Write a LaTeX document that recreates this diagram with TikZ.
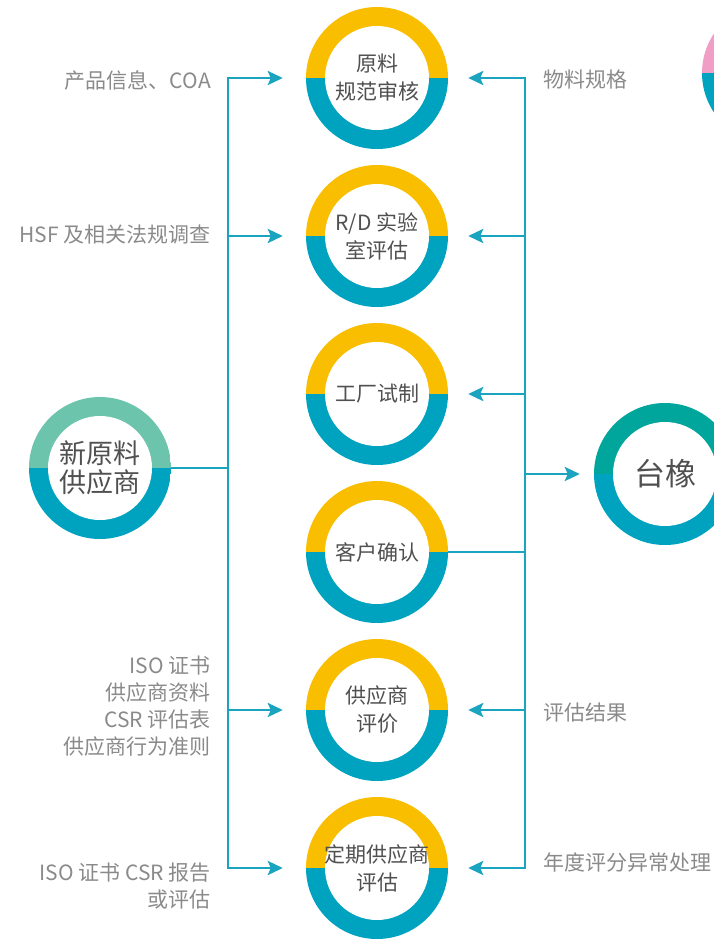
\documentclass[tikz,border=0pt]{standalone}
\usepackage{fontspec}
\setmainfont{Noto Sans CJK SC}
\usetikzlibrary{arrows.meta}
\definecolor{ringy}{HTML}{F9BE00}
\definecolor{ringb}{HTML}{00A3BF}
\definecolor{ringg}{HTML}{6CC4AC}
\definecolor{ringt}{HTML}{00A69C}
\definecolor{ringp}{HTML}{F19EC6}
\definecolor{linec}{HTML}{1AA4BF}
\definecolor{labc}{HTML}{8A8A8A}
\definecolor{txtc}{HTML}{505050}
\tikzset{
  ring/.style 2 args={circle,minimum size=142pt,inner sep=0pt,align=center,text=txtc,
    font=\fontsize{21}{28}\selectfont,
    path picture={
      \fill[#1] (path picture bounding box.north west) rectangle (path picture bounding box.east);
      \fill[#2] (path picture bounding box.west) rectangle (path picture bounding box.south east);
      \fill[white] (path picture bounding box.center) circle (52pt);}},
  lab/.style={text=labc,inner sep=0pt,font=\fontsize{21}{27}\selectfont},
  link/.style={draw=linec,line width=2.8pt},
  arr/.style={link,-{Stealth[length=15pt,width=14pt,inset=3pt]}}
}
\begin{document}
\begin{tikzpicture}[x=1pt,y=-1pt]
\useasboundingbox (0,0) rectangle (714,940);
\clip (0,0) rectangle (714,940);
\node[ring={ringy}{ringb}] (c1) at (377,78) {原料\\规范审核};
\node[ring={ringy}{ringb}] (c2) at (377,236) {R/D 实验\\室评估};
\node[ring={ringy}{ringb}] (c3) at (377,394) {工厂试制};
\node[ring={ringy}{ringb}] (c4) at (377,552) {客户确认};
\node[ring={ringy}{ringb}] (c5) at (377,710) {供应商\\评价};
\node[ring={ringy}{ringb}] (c6) at (377,868) {定期供应商\\评估};
\node[ring={ringg}{ringb},font=\fontsize{27}{29}\selectfont] (sup) at (100,468) {新原料\\供应商};
\node[ring={ringt}{ringb},font=\fontsize{31}{34}\selectfont] (tx) at (665,474) {台橡};
\node[ring={ringp}{ringb}] (pk) at (773,73) {};
\coordinate (lb) at (228,0);
\coordinate (rb) at (525,0);
\draw[link] (sup.east) -- (sup.east -| lb);
\draw[arr,shorten >=23pt] (lb |- sup) -- (lb |- c1) -- (c1.west);
\draw[arr,shorten >=23pt] (lb |- sup) -- (lb |- c6) -- (c6.west);
\draw[arr,shorten >=23pt] (lb |- c2) -- (c2.west);
\draw[arr,shorten >=23pt] (lb |- c5) -- (c5.west);
\draw[arr,shorten >=20pt] (rb |- tx) -- (rb |- c1) -- (c1.east);
\draw[arr,shorten >=20pt] (rb |- tx) -- (rb |- c6) -- (c6.east);
\draw[arr,shorten >=20pt] (rb |- c2) -- (c2.east);
\draw[arr,shorten >=20pt] (rb |- c3) -- (c3.east);
\draw[arr,shorten >=20pt] (rb |- c5) -- (c5.east);
\draw[link] (c4.east) -- (c4.east -| rb);
\draw[arr,shorten >=14pt] (rb |- tx) -- (tx.west);
\node[lab,anchor=east] (l1) at (211,80) {产品信息、COA};
\node[lab,anchor=east] (l2) at (211,235) {HSF 及相关法规调查};
\node[lab,anchor=east,align=right] (l5) at (211,706) {ISO 证书\\供应商资料\\CSR 评估表\\供应商行为准则};
\node[lab,anchor=east,align=right] (l6) at (211,886) {ISO 证书 CSR 报告\\或评估};
\node[lab,anchor=west] (r1) at (543,80) {物料规格};
\node[lab,anchor=west] (r5) at (543,712) {评估结果};
\node[lab,anchor=west] (r6) at (543,862) {年度评分异常处理};
\end{tikzpicture}
\end{document}
